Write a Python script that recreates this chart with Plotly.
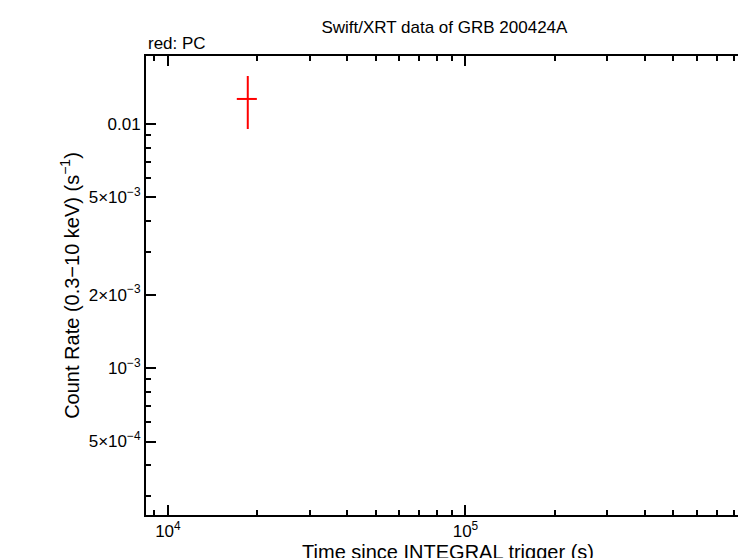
import math
import plotly.graph_objects as go

# PC data point
pc_time = [18550]
pc_time_lo = [17040]
pc_time_hi = [19900]
pc_rate = [0.01267]
pc_rate_lo = [0.00954]
pc_rate_hi = [0.01573]

x_ticks = [1e4, 1e5]
x_ticktext = ["10<sup>4</sup>", "10<sup>5</sup>"]
y_ticks = [5e-4, 1e-3, 2e-3, 5e-3, 0.01]
y_ticktext = ["5×10<sup>−4</sup>", "10<sup>−3</sup>", "2×10<sup>−3</sup>",
              "5×10<sup>−3</sup>", "0.01"]

x_minor = [m * 10 ** e for e in range(3, 6) for m in range(2, 10)]
y_minor = [m * 10 ** e for e in range(-4, -1) for m in range(2, 10)]

fig = go.Figure()
fig.add_trace(go.Scatter(
    x=pc_time, y=pc_rate, mode="markers",
    marker=dict(size=1, color="red"),
    error_x=dict(type="data", symmetric=False,
                 array=[h - t for h, t in zip(pc_time_hi, pc_time)],
                 arrayminus=[t - l for t, l in zip(pc_time, pc_time_lo)],
                 color="red", thickness=2, width=0),
    error_y=dict(type="data", symmetric=False,
                 array=[h - r for h, r in zip(pc_rate_hi, pc_rate)],
                 arrayminus=[r - l for r, l in zip(pc_rate, pc_rate_lo)],
                 color="red", thickness=2, width=0),
    showlegend=False,
))

axis_common = dict(type="log", showgrid=False, zeroline=False, showline=True,
                   linecolor="black", linewidth=2, mirror="ticks", automargin=False,
                   ticks="inside", ticklen=10, tickwidth=1.5, tickcolor="black",
                   tickfont=dict(size=17))

fig.update_xaxes(**axis_common,
                 range=[math.log10(8440), math.log10(9.04e5)],
                 tickvals=x_ticks, ticktext=x_ticktext,
                 minor=dict(tickvals=x_minor, ticks="inside", ticklen=5, tickcolor="black"),
                 title=dict(text="Time since INTEGRAL trigger (s)", standoff=2))
fig.update_yaxes(**axis_common,
                 range=[math.log10(2.5e-4), math.log10(0.019)],
                 tickvals=y_ticks, ticktext=y_ticktext,
                 minor=dict(tickvals=y_minor, ticks="inside", ticklen=5, tickcolor="black"),
                 title=dict(text="Count Rate (0.3−10 keV) (s<sup>−1</sup>)", standoff=4))

fig.update_layout(
    width=746, height=558, autosize=False,
    margin=dict(l=138, r=4, t=48, b=51, autoexpand=False),
    paper_bgcolor="white", plot_bgcolor="white",
    font=dict(family="Liberation Sans", size=17, color="black"),
    title=dict(text="Swift/XRT data of GRB 200424A", x=0.585, xanchor="center",
               y=0.965, yanchor="middle", font=dict(size=17)),
    annotations=[dict(text="red: PC", xref="paper", yref="paper", x=0, y=1.003,
                      xanchor="left", yanchor="bottom", showarrow=False,
                      font=dict(size=17))],
)

fig.write_html("out.html")
